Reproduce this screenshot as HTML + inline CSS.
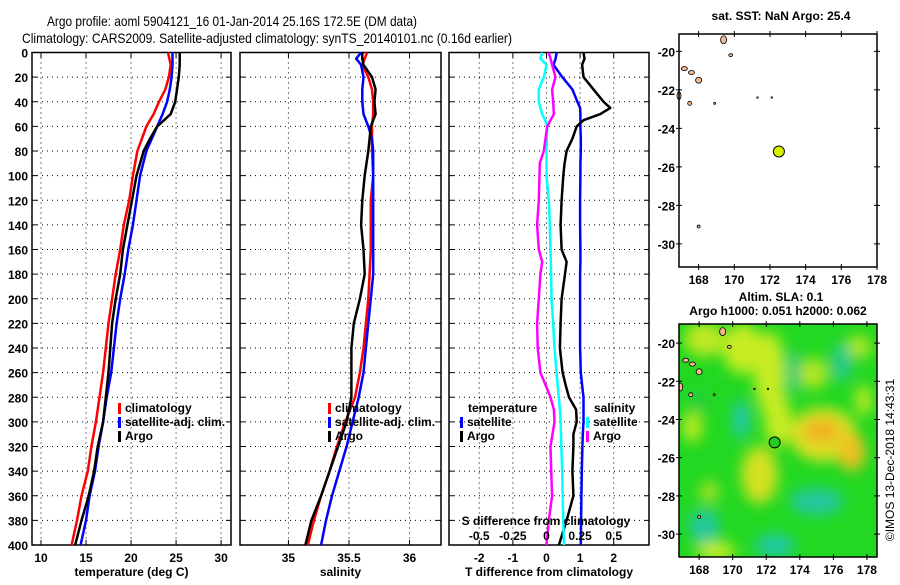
<!DOCTYPE html>
<html><head><meta charset="utf-8"><style>
body{margin:0;background:#fff}
svg text{font-family:"Liberation Sans",Arial,sans-serif;font-size:12px;font-weight:bold;fill:#000}
</style></head><body>
<svg id="c" width="900" height="580" xmlns="http://www.w3.org/2000/svg">
<defs><filter id="blur" x="-50%" y="-50%" width="200%" height="200%"><feGaussianBlur stdDeviation="7"/></filter>
<clipPath id="mapclip"><rect x="679" y="324" width="198" height="233"/></clipPath></defs>
<text x="47" y="26" textLength="370" lengthAdjust="spacingAndGlyphs" style="font-weight:normal;font-size:14px">Argo profile: aoml 5904121_16 01-Jan-2014 25.16S 172.5E (DM data)</text>
<text x="22" y="43" textLength="490" lengthAdjust="spacingAndGlyphs" style="font-weight:normal;font-size:14px">Climatology: CARS2009. Satellite-adjusted climatology: synTS_20140101.nc (0.16d earlier)</text>
<g id="g"></g>
</svg>
<script>
const depthsT=[0,10,20,30,40,50,60,70,80,100,120,140,160,180,200,220,240,260,280,300,320,340,360,380,400];
const tempClim=[24.1,24.4,24.2,23.8,23.1,22.5,21.7,21.2,20.7,20.2,19.8,19.2,18.8,18.3,17.9,17.5,17.2,16.9,16.5,16.1,15.6,15.2,14.5,14.0,13.4];
const tempSat=[24.6,24.6,24.5,24.3,24.0,23.5,22.9,22.3,21.7,21.0,20.6,20.2,19.7,19.3,18.8,18.4,18.1,17.8,17.3,16.9,16.4,16.0,15.4,15.0,14.4];
const tempArgo=[25.4,25.4,25.3,25.1,24.9,24.4,22.9,22.1,21.4,20.6,20.1,19.6,19.1,18.8,18.3,17.9,17.7,17.5,17.2,16.9,16.3,15.9,15.3,14.5,13.8];
const depthsS=[0,5,10,20,30,40,50,60,70,80,100,120,140,160,180,200,220,240,260,280,300,320,340,360,380,400];
const salClim=[35.65,35.63,35.61,35.66,35.69,35.70,35.70,35.69,35.69,35.69,35.70,35.68,35.68,35.68,35.67,35.66,35.64,35.62,35.59,35.55,35.47,35.40,35.34,35.27,35.21,35.16];
const salSat=[35.60,35.56,35.60,35.62,35.61,35.61,35.62,35.66,35.69,35.70,35.70,35.70,35.70,35.70,35.70,35.68,35.66,35.64,35.62,35.58,35.53,35.48,35.42,35.36,35.31,35.27];
const salArgo=[35.61,35.61,35.62,35.69,35.72,35.71,35.72,35.68,35.67,35.66,35.63,35.61,35.60,35.62,35.63,35.59,35.54,35.52,35.52,35.52,35.48,35.41,35.34,35.27,35.19,35.14];
const depthsD=[0,5,10,20,30,40,45,50,55,60,70,80,90,100,120,140,160,170,180,200,220,240,260,270,280,290,300,310,320,340,360,380,400];
const dTSat=[0.3,0.27,0.21,0.47,0.77,0.92,1.0,1.01,1.01,1.01,1.02,1.02,1.01,1.01,1.0,1.0,1.01,1.01,1.0,1.0,1.0,1.0,1.02,1.06,1.1,1.1,1.1,1.08,1.07,1.05,1.04,1.03,1.02];
const dTArgo=[1.1,1.13,1.06,1.1,1.4,1.7,1.9,1.6,1.1,0.9,0.77,0.6,0.54,0.5,0.45,0.42,0.45,0.6,0.55,0.45,0.42,0.4,0.48,0.57,0.67,0.88,0.9,0.8,0.8,0.77,0.8,0.6,0.37];
const dSSat=[-0.032,-0.045,0,-0.02,-0.057,-0.057,-0.045,-0.032,-0.01,0.005,0.003,0,0,0,0.017,0.025,0.03,0.032,0.034,0.037,0.05,0.06,0.075,0.083,0.092,0.1,0.105,0.108,0.11,0.117,0.12,0.125,0.13];
const dSArgo=[0.017,0.03,0.042,0.067,0.042,0.05,0.052,0.055,0.03,0.005,-0.007,-0.02,-0.05,-0.052,-0.057,-0.07,-0.057,-0.032,-0.045,-0.057,-0.07,-0.065,-0.045,-0.007,0.03,0.055,0.06,0.045,0.03,0.035,0.042,0.017,0];
const argoLon=172.5, argoLat=-25.2;
const NS='http://www.w3.org/2000/svg';
const G=document.getElementById('g');
function el(tag,attrs,parent){const e=document.createElementNS(NS,tag);for(const k in attrs)e.setAttribute(k,attrs[k]);(parent||G).appendChild(e);return e;}
function txt(x,y,s,anchor,parent,extra){const t=el('text',Object.assign({x:x,y:y,'text-anchor':anchor||'start'},extra||{}),parent);t.textContent=s;return t;}
const Y0=52.5,Y1=545;
const yD=d=>Y0+(Y1-Y0)*d/400;
const yl=el('g',{});


for(let d=0;d<=400;d+=20){txt(28,yD(d)+5,String(d),'end',yl);}
function panel(name,x0,x1,xmin,xmax,ticks,tickLabels,title){
  const g=el('g',{});
  
  
  const sx=v=>x0+(x1-x0)*(v-xmin)/(xmax-xmin);
  for(let d=20;d<400;d+=20){el('line',{x1:x0,x2:x1,y1:yD(d),y2:yD(d),stroke:'#000','stroke-dasharray':'1,4','stroke-width':1},g);
    el('line',{x1:x0,x2:x0+5,y1:yD(d),y2:yD(d),stroke:'#000'},g);el('line',{x1:x1-5,x2:x1,y1:yD(d),y2:yD(d),stroke:'#000'},g);}
  ticks.forEach((t,i)=>{const x=sx(t);el('line',{x1:x,x2:x,y1:Y0,y2:Y1,stroke:'#000','stroke-dasharray':'1,4'},g);
    el('line',{x1:x,x2:x,y1:Y0,y2:Y0+5,stroke:'#000'},g);el('line',{x1:x,x2:x,y1:Y1-5,y2:Y1,stroke:'#000'},g);
    txt(x,562,tickLabels[i],'middle',g);});
  el('rect',{x:x0,y:Y0,width:x1-x0,height:Y1-Y0,fill:'none',stroke:'#000','stroke-width':1.5},g);
  const t=txt((x0+x1)/2,576,title,'middle',g);
  
  
  return {g,sx};
}
function line(p,sx,xs,ds,color,name,w){
  const pts=xs.map((v,i)=>sx(v).toFixed(1)+','+yD(ds[i]).toFixed(1)).join(' ');
  const l=el('polyline',{points:pts,fill:'none',stroke:color,'stroke-width':w||2.5,'stroke-linejoin':'round'},p.g);
  
  
}
function legItem(g,x,y,color,label){el('rect',{x:x,y:y-9,width:3,height:11,fill:color},g);txt(x+7,y,label,'start',g);}
const p1=panel('temperature-panel',32,231,9,31.1,[10,15,20,25,30],['10','15','20','25','30'],'temperature (deg C)');
line(p1,p1.sx,tempClim,depthsT,'#f00','temp-climatology-line');
line(p1,p1.sx,tempSat,depthsT,'#00f','temp-satellite-line');
line(p1,p1.sx,tempArgo,depthsT,'#000','temp-argo-line');
const l1=el('g',{},p1.g);
legItem(l1,118,412,'#f00','climatology');legItem(l1,118,426,'#00f','satellite-adj. clim.');legItem(l1,118,440,'#000','Argo');
const p2=panel('salinity-panel',240,441,34.6,36.26,[35,35.5,36],['35','35.5','36'],'salinity');
line(p2,p2.sx,salClim,depthsS,'#f00','sal-climatology-line');
line(p2,p2.sx,salSat,depthsS,'#00f','sal-satellite-line');
line(p2,p2.sx,salArgo,depthsS,'#000','sal-argo-line');
const l2=el('g',{},p2.g);
legItem(l2,328,412,'#f00','climatology');legItem(l2,328,426,'#00f','satellite-adj. clim.');legItem(l2,328,440,'#000','Argo');
const p3=panel('difference-panel',449,649,-2.9,3.05,[-2,-1,0,1,2],['-2','-1','0','1','2'],'T difference from climatology');
const sS=v=>p3.sx(v*4);
line(p3,p3.sx,dTSat,depthsD,'#00f','dT-satellite-line');
line(p3,p3.sx,dTArgo,depthsD,'#000','dT-argo-line');
line(p3,sS,dSSat,depthsD,'#0ff','dS-satellite-line');
line(p3,sS,dSArgo,depthsD,'#f0f','dS-argo-line');
const sl=el('g',{},p3.g);
txt(546,525,'S difference from climatology','middle',sl);
[[-0.5,'-0.5'],[-0.25,'-0.25'],[0,'0'],[0.25,'0.25'],[0.5,'0.5']].forEach(a=>txt(sS(a[0]),540,a[1],'middle',sl));
const l3=el('g',{},p3.g);
txt(468,412,'temperature','start',l3);legItem(l3,460,426,'#00f','satellite');legItem(l3,460,440,'#000','Argo');
txt(594,412,'salinity','start',l3);legItem(l3,586,426,'#0ff','satellite');legItem(l3,586,440,'#f0f','Argo');
function map(name,x0,y0,x1,y1,lonA,lonB,latA,latB,title1,title2){
  const g=el('g',{});
  
  
  const lx=l=>x0+(x1-x0)*(l-lonA)/(lonB-lonA);
  const ly=l=>y0+(y1-y0)*(latA-l)/(latA-latB);
  return {g,lx,ly,frame:()=>{
    el('rect',{x:x0,y:y0,width:x1-x0,height:y1-y0,fill:'none',stroke:'#000','stroke-width':1.5},g);
    for(let l=168;l<=178;l+=2){const x=lx(l);el('line',{x1:x,x2:x,y1:y0-3,y2:y0+3,stroke:'#000'},g);el('line',{x1:x,x2:x,y1:y1-3,y2:y1+3,stroke:'#000'},g);txt(x,y1+17,String(l),'middle',g);}
    for(let l=-20;l>=-30;l-=2){const y=ly(l);el('line',{x1:x0-3,x2:x0+3,y1:y,y2:y,stroke:'#000'},g);el('line',{x1:x1-3,x2:x1+3,y1:y,y2:y,stroke:'#000'},g);txt(x0-4,y+5,String(l),'end',g);}
    txt((x0+x1)/2+3,(y0>100?y0-23:20),title1,'middle',g);
    if(title2)txt((x0+x1)/2,y0-9,title2,'middle',g);
  }};
}
const islands=[[169.4,-19.4,3,4],[169.8,-20.2,2,1.5],[167.2,-20.9,3,2],[167.6,-21.1,3,2],[168,-21.5,3,3],[166.9,-22.3,2,4],[167.5,-22.7,2,2],[168.9,-22.7,1,1],[171.3,-22.4,0.8,0.8],[172.1,-22.4,0.8,0.8],[168,-29.1,1.5,1.5]];
const m1=map('sst-map',679,34,877,267,166.9,178,-19.1,-31.2,'sat. SST: NaN Argo: 25.4');
islands.forEach(s=>el('ellipse',{cx:m1.lx(s[0]),cy:m1.ly(s[1]),rx:s[2],ry:s[3],fill:'#f5b88a',stroke:'#000','stroke-width':0.8},m1.g));
const d1=el('circle',{cx:m1.lx(argoLon),cy:m1.ly(argoLat),r:5.5,fill:'#d4f000',stroke:'#000'},m1.g);


m1.frame();
const m2=map('sla-map',679,324,877,557,166.8,178.6,-19.0,-31.2,'Altim. SLA: 0.1','Argo h1000: 0.051 h2000: 0.062');
const fld=el('g',{'clip-path':'url(#mapclip)'},m2.g);
el('rect',{x:679,y:324,width:198,height:233,fill:'#22d822'},fld);
const blobs=el('g',{filter:'url(#blur)'},fld);
[[168.3,-19.8,1.2,0.9,'#bfe822'],[170.6,-20.3,1.2,1.3,'#c8ec22'],[172.2,-21.6,0.9,2.2,'#c8ec22'],[172.7,-24,0.8,1.4,'#c8ec22'],[174.8,-21.6,0.9,0.8,'#b4e620'],[177.5,-20.2,0.8,0.6,'#b0e620'],[175.4,-24.8,2,1.4,'#dde020'],[175.3,-24.6,1.1,0.6,'#f0b020'],[177.1,-25.7,0.8,1.0,'#f0c020'],[171.7,-27,0.7,1.0,'#f0c020'],[171.6,-26.9,1.1,1.5,'#d4e020'],[167.6,-24.4,0.6,0.8,'#c0ea22'],[168.6,-27.8,0.6,0.6,'#a0e020'],[169,-30.9,1.2,0.5,'#c8ec22'],[177.8,-23,0.5,0.8,'#c0ea22'],[170.5,-24,0.5,1.0,'#20c8b0'],[175,-28.3,1.6,0.7,'#20c8a0'],[168.3,-29.6,0.9,0.9,'#22c8a0'],[172.5,-30.6,1.2,0.6,'#22c8a8'],[176.5,-21,0.6,1.0,'#28c890'],[173.6,-21.5,0.4,1.2,'#30c880'],[168,-23,0.6,0.6,'#22d040']].forEach(b=>el('ellipse',{cx:m2.lx(b[0]),cy:m2.ly(b[1]),rx:b[2]*16.8,ry:b[3]*19.3,fill:b[4]},blobs));
islands.forEach(s=>el('ellipse',{cx:m2.lx(s[0]),cy:m2.ly(s[1]),rx:s[2],ry:s[3],fill:'#f5b88a',stroke:'#000','stroke-width':0.8},fld));
const d2=el('circle',{cx:m2.lx(argoLon),cy:m2.ly(argoLat),r:5.5,fill:'#22cc22',stroke:'#000'},m2.g);


m2.frame();
const cr=txt(0,0,'©IMOS 13-Dec-2018 14:43:31','middle',G,{transform:'translate(894,460) rotate(-90)',style:'font-weight:normal'});


</script>
</body></html>
